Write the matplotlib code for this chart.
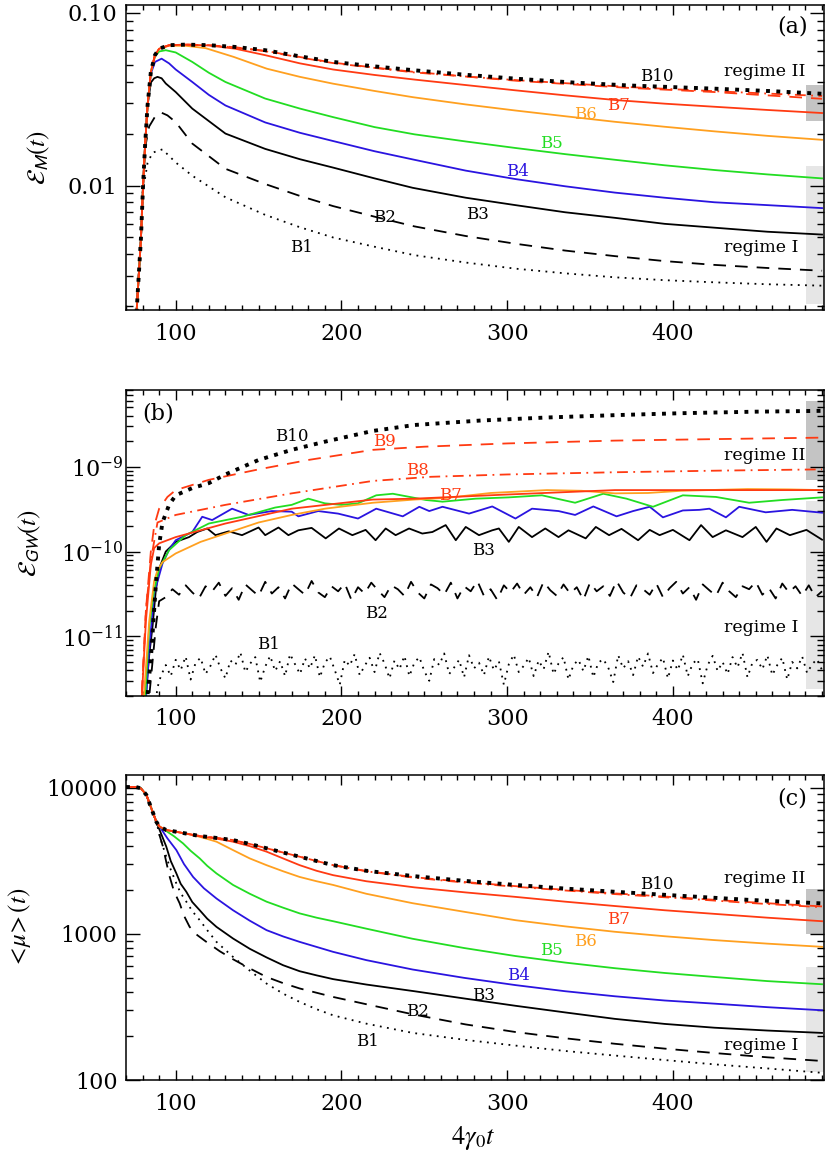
import numpy as np
import matplotlib
matplotlib.use('Agg')
import matplotlib.pyplot as plt
from matplotlib.ticker import FixedLocator, FixedFormatter, LogLocator, NullFormatter, MultipleLocator

plt.rcParams['font.family'] = ['DejaVu Serif']
plt.rcParams['mathtext.fontset'] = 'stix'

RED = '#ff3a12'
ORANGE = '#ffa020'
GREEN = '#22dd22'
BLUE = '#2a14e0'

# ---------------- panel (a): magnetic energy ----------------
ta_b10 = [76, 79, 80.3, 81.5, 83, 85, 87.5, 90, 96, 106, 120, 136, 154, 175, 195, 220, 244, 275, 305, 340, 373, 425, 460, 490]
ea_b10 = [0.0016, 0.0049, 0.010, 0.017, 0.029, 0.0455, 0.057, 0.062, 0.065, 0.0655, 0.065, 0.0635, 0.0608, 0.056,
          0.052, 0.049, 0.0465, 0.0438, 0.0416, 0.0395, 0.038, 0.0364, 0.0352, 0.034]
ta_b9 = [76, 79, 80.3, 81.5, 83, 85, 87.5, 90, 96, 106, 120, 136, 154, 175, 195, 220, 244, 275, 305, 340, 373, 425, 490]
ea_b9 = [0.0016, 0.0049, 0.010, 0.017, 0.029, 0.0455, 0.057, 0.062, 0.065, 0.0655, 0.065, 0.0632, 0.0603, 0.0555,
         0.0515, 0.0482, 0.0455, 0.0428, 0.0405, 0.0385, 0.0368, 0.0348, 0.0318]
ta_b8 = [76, 79, 80.3, 81.5, 83, 85, 87.5, 90, 96, 106, 120, 136, 154, 175, 195, 220, 244, 275, 305, 340, 373, 425, 490]
ea_b8 = [0.0016, 0.0049, 0.010, 0.017, 0.029, 0.0455, 0.057, 0.062, 0.065, 0.0655, 0.065, 0.063, 0.060, 0.0552,
         0.0512, 0.0480, 0.0452, 0.0428, 0.0408, 0.0389, 0.0372, 0.0352, 0.0330]
ta_b7 = [76, 79, 80.3, 81.5, 83, 85, 87.5, 90, 96, 106, 120, 136, 154, 175, 195, 220, 244, 275, 305, 335, 365, 395, 425, 457, 490]
ea_b7 = [0.0016, 0.0049, 0.010, 0.017, 0.029, 0.0455, 0.057, 0.062, 0.065, 0.0655, 0.0648, 0.062, 0.0569, 0.051,
         0.0470, 0.0437, 0.0411, 0.0382, 0.0356, 0.0333, 0.0313, 0.0298, 0.0286, 0.0274, 0.0263]
ta_b6 = [76, 79, 80.3, 81.5, 83, 85, 87.5, 90, 96, 106, 118, 135, 155, 175, 195, 220, 243, 275, 305, 335, 365, 395, 425, 457, 490]
ea_b6 = [0.0016, 0.0049, 0.010, 0.017, 0.029, 0.0455, 0.057, 0.062, 0.0645, 0.0645, 0.0625, 0.0556, 0.0475, 0.0426,
         0.0389, 0.0353, 0.0325, 0.0295, 0.0272, 0.0252, 0.0234, 0.0219, 0.0206, 0.0194, 0.0184]
ta_b5 = [76, 79, 80.3, 81.5, 83, 85, 87.5, 90, 94, 100, 110, 120, 130, 154, 175, 195, 220, 244, 275, 305, 335, 365,
         395, 425, 457, 490]
ea_b5 = [0.0016, 0.0049, 0.010, 0.017, 0.029, 0.0455, 0.056, 0.0598, 0.0608, 0.059, 0.052, 0.045, 0.0398, 0.0319,
         0.0279, 0.0249, 0.0218, 0.0198, 0.0180, 0.0165, 0.0152, 0.0141, 0.0131, 0.0123, 0.0116, 0.0110]
ta_b4 = [76, 79, 80.3, 81.5, 83, 85, 87.5, 91.5, 96, 100, 110, 120, 130, 154, 175, 195, 220, 244, 275, 305, 335, 365,
         395, 425, 457, 490]
ea_b4 = [0.0016, 0.0049, 0.010, 0.017, 0.029, 0.0445, 0.052, 0.0543, 0.051, 0.047, 0.0398, 0.0335, 0.0291, 0.0232,
         0.0202, 0.0181, 0.0158, 0.0141, 0.0122, 0.0109, 0.0099, 0.0091, 0.0085, 0.0080, 0.0077, 0.0074]
ta_b3 = [76, 79, 80.3, 81.5, 83, 85, 87, 89, 91.5, 94, 100, 110, 130, 154, 175, 195, 220, 243, 275, 305, 335, 365,
         395, 425, 457, 490]
ea_b3 = [0.0016, 0.0049, 0.010, 0.017, 0.029, 0.0395, 0.0418, 0.0426, 0.0418, 0.039, 0.0348, 0.0279, 0.0200, 0.0163,
         0.0142, 0.0127, 0.0110, 0.0097, 0.0085, 0.0077, 0.0070, 0.0065, 0.0060, 0.0057, 0.0054, 0.0052]
ta_b2 = [76, 79, 80.3, 81.5, 84, 88, 91.5, 95, 100, 110, 130, 154, 175, 195, 220, 244, 275, 305, 335, 365, 395, 425,
         457, 490]
ea_b2 = [0.0016, 0.0049, 0.010, 0.0165, 0.022, 0.0255, 0.0264, 0.0255, 0.0233, 0.0175, 0.0125, 0.0102, 0.0087, 0.0076,
         0.0066, 0.0058, 0.0051, 0.0046, 0.0042, 0.0039, 0.00365, 0.00347, 0.00333, 0.00321]
ta_b1 = [76, 79, 80, 83, 86, 92, 100, 110, 130, 154, 175, 195, 220, 244, 275, 305, 335, 365, 395, 425, 457, 490]
ea_b1 = [0.0016, 0.0049, 0.0090, 0.0135, 0.0155, 0.0162, 0.0136, 0.0114, 0.00855, 0.00676, 0.00573, 0.0050, 0.00442,
         0.00395, 0.00358, 0.00330, 0.00310, 0.00294, 0.00283, 0.00275, 0.00268, 0.00263]

# ---------------- panel (b): gravitational wave energy ----------------
tb_b10 = [82, 85.3, 88, 90, 92, 96, 100, 110, 120, 130, 150, 170, 190, 219, 244, 284, 324, 365, 405, 450, 490]
eb_b10 = [1.2e-12, 6.6e-12, 4e-11, 1.2e-10, 2.2e-10, 3.55e-10, 4.6e-10, 5.6e-10, 6.4e-10, 8.1e-10, 1.2e-9, 1.58e-9,
          1.97e-9, 2.64e-9, 3.1e-9, 3.5e-9, 3.8e-9, 4.05e-9, 4.27e-9, 4.45e-9, 4.55e-9]
tb_b9 = [79, 82, 85, 87, 90, 95, 100, 120, 150, 180, 219, 250, 300, 365, 430, 490]
eb_b9 = [1.2e-12, 2e-11, 1e-10, 2e-10, 3.2e-10, 4.4e-10, 5.3e-10, 7e-10, 9.3e-10, 1.2e-9, 1.58e-9, 1.72e-9, 1.88e-9,
         2.03e-9, 2.12e-9, 2.2e-9]
tb_b8 = [79, 82, 85, 89, 100, 130, 170, 219, 254, 300, 365, 430, 490]
eb_b8 = [1.2e-12, 2e-11, 7.9e-11, 2.2e-10, 2.7e-10, 3.55e-10, 4.85e-10, 6.8e-10, 7.6e-10, 8.1e-10, 8.6e-10, 9.0e-10,
         9.3e-10]
tb_b7 = [79, 82, 85, 87, 90, 100, 130, 170, 219, 244, 300, 365, 430, 490]
eb_b7 = [1.2e-12, 1.5e-11, 7e-11, 1.1e-10, 1.25e-10, 1.48e-10, 2.14e-10, 3.2e-10, 4.1e-10, 4.2e-10, 4.7e-10, 5.3e-10,
         5.3e-10, 5.3e-10]
tb_b6 = [80, 84, 87, 89, 92, 100, 115, 130, 150, 170, 190, 219, 244, 264, 290, 324, 345, 365, 385, 405, 445, 470, 490]
eb_b6 = [1.2e-12, 1.5e-11, 4.5e-11, 6e-11, 7.5e-11, 9.5e-11, 1.3e-10, 1.63e-10, 2.2e-10, 2.7e-10, 3.2e-10, 3.76e-10,
         4.1e-10, 4.3e-10, 4.9e-10, 5.3e-10, 5.2e-10, 4.85e-10, 4.9e-10, 5.2e-10, 5.45e-10, 5.4e-10, 5.3e-10]
tb_b5 = [81, 84, 87, 90, 96, 106, 120, 140, 160, 170, 180, 190, 200, 210, 221, 231, 251, 261, 281, 301, 321, 341,
         358, 372, 388, 406, 426, 446, 466, 490]
eb_b5 = [1.2e-12, 1.29e-11, 3.5e-11, 6.3e-11, 1.04e-10, 1.56e-10, 2.14e-10, 2.57e-10, 3.3e-10, 3.55e-10, 4.2e-10,
         3.7e-10, 3.55e-10, 3.7e-10, 4.6e-10, 4.8e-10, 4.05e-10, 3.87e-10, 4.2e-10, 4.35e-10, 4.6e-10, 3.76e-10,
         4.8e-10, 4.2e-10, 3.37e-10, 4.6e-10, 4.4e-10, 3.76e-10, 4.05e-10, 4.35e-10]
tb_b4 = [81.5, 84, 87, 92, 96, 100, 110, 116, 122, 134, 144, 158, 170, 174, 186, 198, 210, 221, 237, 247, 253, 261,
         277, 291, 305, 315, 331, 341, 352, 366, 376, 386, 394, 406, 416, 422, 432, 440, 456, 472, 490]
eb_b4 = [1.2e-12, 7e-12, 3.2e-11, 7.2e-11, 1.05e-10, 1.36e-10, 1.7e-10, 2.57e-10, 2.35e-10, 3.2e-10, 2.7e-10, 3.0e-10,
         2.95e-10, 2.6e-10, 3.0e-10, 2.8e-10, 2.45e-10, 3.2e-10, 2.6e-10, 3.37e-10, 3.0e-10, 3.37e-10, 2.8e-10,
         3.4e-10, 2.45e-10, 3.2e-10, 3.0e-10, 2.7e-10, 3.4e-10, 2.6e-10, 3.0e-10, 3.37e-10, 2.53e-10, 3.05e-10,
         3.1e-10, 3.2e-10, 2.53e-10, 3.37e-10, 2.9e-10, 3.1e-10, 2.87e-10]
tb_b3 = [81, 84, 86, 88, 90, 94, 100, 108, 113, 119, 124, 132, 140, 150, 154, 162, 168, 174, 182, 190.5, 198.5, 206.6,
         214.6, 220.6, 226.7, 232.7, 240.8, 248.8, 254.9, 262.9, 269, 275, 283, 291, 295, 301, 307, 315, 323, 331, 337,
         347.4, 353.5, 361.5, 369, 379, 386, 392, 400, 410, 417, 424, 432, 442, 450, 456.5, 462.5, 470.6, 480.6, 490]
eb_b3 = [1.2e-12, 6e-12, 1.3e-11, 3.5e-11, 6.3e-11, 1.0e-10, 1.3e-10, 1.48e-10, 1.7e-10, 1.87e-10, 1.56e-10, 1.73e-10,
         1.56e-10, 1.92e-10, 1.56e-10, 1.92e-10, 1.56e-10, 1.78e-10, 1.9e-10, 1.43e-10, 1.87e-10, 1.56e-10, 1.8e-10,
         1.36e-10, 1.87e-10, 1.56e-10, 1.87e-10, 1.63e-10, 1.7e-10, 2.05e-10, 1.36e-10, 1.95e-10, 1.56e-10, 1.78e-10,
         1.87e-10, 1.3e-10, 1.95e-10, 1.48e-10, 1.87e-10, 1.48e-10, 1.78e-10, 1.43e-10, 1.95e-10, 1.56e-10, 1.85e-10,
         1.36e-10, 1.8e-10, 1.56e-10, 1.8e-10, 1.36e-10, 2.05e-10, 1.48e-10, 1.78e-10, 1.48e-10, 1.95e-10, 1.3e-10,
         1.87e-10, 1.56e-10, 1.8e-10, 1.38e-10]
# B2: rise, then a noisy band sampled every 4 time units from 94 to 490 (values in 1e-11)
tb_b2_rise = [83, 86, 88, 90]
eb_b2_rise = [1.2e-12, 5e-12, 1.3e-11, 2.6e-11]
tb_b2_band = np.arange(94, 491, 4)
eb_b2_band = [2.9, 3.6, 3.1, 4.0, 3.3, 2.8, 3.9, 3.4, 4.3, 3.0,
              3.7, 2.7, 4.1, 3.5, 3.0, 4.4, 3.2, 3.8, 2.8, 4.2,
              3.6, 3.1, 4.5, 3.3, 2.9, 3.9, 3.4, 4.2, 2.7, 3.8,
              3.2, 4.3, 3.5, 2.9, 4.0, 3.6, 3.0, 4.4, 3.3, 2.8,
              4.1, 3.7, 3.1, 4.3, 2.8, 3.9, 3.4, 4.5, 3.0, 3.6,
              2.7, 4.0, 3.3, 4.2, 3.1, 3.8, 2.9, 4.4, 3.5, 3.0,
              4.1, 3.2, 3.8, 2.7, 4.3, 3.4, 3.9, 3.0, 4.5, 3.3,
              2.8, 4.0, 3.6, 3.1, 4.2, 2.9, 3.7, 4.4, 3.2, 3.8,
              2.7, 4.1, 3.5, 3.0, 4.3, 3.4, 2.9, 3.9, 3.6, 4.4,
              3.1, 3.7, 2.8, 4.2, 3.3, 3.9, 3.0, 4.0, 2.9, 3.4]
# B1: rise, then a noisy band sampled every 3 time units from 94 to 490 (values in 1e-12)
tb_b1_rise = [87, 89, 91]
eb_b1_rise = [1.2e-12, 2.5e-12, 3.4e-12]
tb_b1_band = np.arange(94, 491, 3)
eb_b1_band = [4.6, 3.4, 5.3, 4.0, 5.8, 3.1, 4.9, 5.6, 3.6, 4.5,
              6.1, 4.2, 3.2, 5.2, 4.6, 6.5, 3.8, 4.8, 5.7, 2.9,
              4.4, 5.9, 3.9, 5.1, 3.4, 6.2, 4.7, 3.6, 5.5, 4.2,
              6.0, 3.3, 4.9, 5.8, 4.0, 2.7, 5.3, 4.5, 6.2, 3.5,
              4.5, 5.6, 3.8, 6.4, 4.8, 3.2, 5.2, 4.1, 5.9, 3.4,
              4.9, 5.7, 3.9, 3.0, 5.4, 4.6, 6.3, 3.6, 4.3, 5.3,
              3.3, 6.0, 4.2, 4.9, 3.5, 5.8, 4.0, 5.1, 2.7, 4.7,
              6.1, 3.8, 4.5, 5.6, 3.4, 5.2, 4.1, 6.6, 3.6, 4.8,
              5.7, 3.1, 4.6, 5.3, 3.9, 5.9, 3.3, 4.9, 5.4, 4.3,
              2.9, 6.0, 4.2, 5.1, 3.5, 5.8, 4.4, 6.3, 3.7, 4.7,
              5.6, 3.2, 5.2, 4.0, 6.1, 3.4, 4.8, 5.4, 2.8, 4.6,
              5.9, 3.9, 5.0, 3.6, 5.7, 4.3, 6.4, 3.3, 4.9, 5.3,
              4.1, 6.0, 3.5, 4.6, 5.6, 3.1, 5.0, 4.2, 5.8, 3.7,
              4.7, 5.4, 4.0]

# ---------------- panel (c): mean mu ----------------
tc_start = [70, 76, 79, 82.3, 85.3, 88.3]
mc_start = [10100, 10100, 9900, 8920, 7220, 5840]
tc_b10 = [90.3, 94.3, 100, 114.5, 124.6, 134.6, 144.7, 154.8, 164.8, 174.8, 185, 195, 215, 244, 275, 305, 335, 365, 405, 445, 490]
mc_b10 = [5410, 5130, 5000, 4670, 4530, 4380, 4120, 3850, 3600, 3370, 3150, 2950, 2700, 2480, 2300, 2160, 2040, 1940,
          1820, 1710, 1615]
tc_b9 = [90.3, 94.3, 100, 114.5, 124.6, 134.6, 144.7, 154.8, 164.8, 174.8, 185, 195, 215, 244, 275, 305, 335, 365, 405, 445, 490]
mc_b9 = [5410, 5130, 5000, 4670, 4530, 4380, 4120, 3850, 3600, 3370, 3150, 2950, 2690, 2440, 2260, 2120, 2000, 1890,
         1770, 1650, 1540]
tc_b8 = [90.3, 94.3, 100, 114.5, 124.6, 134.6, 144.7, 154.8, 164.8, 174.8, 185, 195, 215, 244, 275, 305, 335, 365, 405, 445, 490]
mc_b8 = [5410, 5130, 5000, 4670, 4530, 4380, 4120, 3850, 3600, 3370, 3150, 2950, 2680, 2420, 2240, 2100, 1980, 1870,
         1750, 1630, 1520]
tc_b7 = [90.3, 94.3, 100, 114.5, 124.6, 134.6, 144.7, 154.8, 164.8, 174.8, 185, 195, 215, 244, 275, 305, 335, 365, 395,
         425, 457, 490]
mc_b7 = [5410, 5130, 5000, 4650, 4480, 4270, 3980, 3650, 3280, 2950, 2700, 2520, 2290, 2080, 1920, 1790, 1660, 1550,
         1450, 1370, 1290, 1220]
tc_b6 = [90.3, 94.3, 100, 110.5, 117, 124.6, 134.6, 144.7, 154.8, 164.8, 174.8, 185, 195, 215, 243, 275, 305, 335, 365,
         395, 425, 457, 490]
mc_b6 = [5410, 5130, 4990, 4740, 4530, 4270, 3740, 3280, 2950, 2680, 2450, 2290, 2160, 1880, 1620, 1410, 1240, 1125,
         1033, 963, 906, 857, 815]
tc_b5 = [90.3, 94.3, 99, 104.4, 109, 114.5, 119, 124.6, 134.6, 144.7, 154.8, 164.8, 174.8, 185, 195, 215, 243, 274,
         305, 335, 365, 395, 425, 457, 490]
mc_b5 = [5410, 5050, 4650, 4160, 3700, 3280, 2920, 2590, 2160, 1880, 1660, 1510, 1380, 1290, 1220, 1085, 925, 800,
         705, 636, 582, 540, 507, 475, 452]
tc_b4 = [90.3, 95, 100.4, 105, 110.5, 117, 124.6, 134.6, 144.7, 154.8, 164.8, 174.8, 195, 215, 243, 274, 305, 335, 365,
         395, 425, 457, 490]
mc_b4 = [5410, 4500, 3740, 3000, 2450, 2050, 1745, 1450, 1230, 1060, 960, 881, 753, 661, 570, 500, 446, 405, 374, 350,
         333, 315, 300]
tc_b3 = [91, 94.3, 97, 100.4, 103, 106.4, 110, 114.5, 119, 124.6, 134.6, 144.7, 154.8, 164.8, 174.8, 185, 195, 215,
         244, 275, 305, 335, 365, 395, 425, 457, 490]
mc_b3 = [4900, 3950, 3150, 2590, 2200, 1940, 1650, 1450, 1270, 1116, 929, 790, 690, 610, 555, 520, 490, 450, 405,
         360, 322, 290, 262, 242, 228, 218, 210]
tc_b2 = [90.3, 92.3, 94.3, 96.4, 99, 102.4, 105, 108.4, 113, 118.5, 126.6, 134.6, 144.7, 154.8, 164.8, 174.8, 195,
         215, 244, 275, 305, 335, 365, 395, 425, 457, 490]
mc_b2 = [4700, 3950, 3100, 2450, 1950, 1615, 1330, 1116, 980, 881, 760, 670, 580, 507, 460, 423, 370, 330, 280, 240,
         213, 193, 177, 164, 153, 143, 135]
tc_b1 = [91, 94.3, 97, 100.4, 103, 106.4, 110, 114.5, 119, 124.6, 134.6, 144.7, 154.8, 164.8, 174.8, 185, 195, 215, 243,
         275, 305, 335, 365, 395, 425, 457, 490]
mc_b1 = [4400, 3370, 2750, 2210, 1900, 1660, 1430, 1240, 1060, 881, 695, 560, 457, 390, 342, 305, 277, 243, 210, 188,
         172, 158, 147, 137, 128, 120, 112]

# curve labels: (text, x, y, colour)
labels_a = [('B10', 390, 0.0429, 'k'), ('B7', 367, 0.0291, RED), ('B6', 347, 0.0258, ORANGE),
            ('B5', 327, 0.0175, GREEN), ('B4', 306, 0.0121, BLUE), ('B3', 282, 0.0068, 'k'),
            ('B2', 226, 0.00655, 'k'), ('B1', 176, 0.00437, 'k')]
labels_b = [('B10', 170, 2.26e-9, 'k'), ('B9', 226, 1.97e-9, RED), ('B8', 246, 9.1e-10, RED),
            ('B7', 266, 4.63e-10, RED), ('B3', 286, 1.04e-10, 'k'), ('B2', 221, 1.86e-11, 'k'),
            ('B1', 156, 8e-12, 'k')]
labels_c = [('B10', 390, 2160, 'k'), ('B7', 367, 1257, RED), ('B6', 347, 881, ORANGE),
            ('B5', 327, 773, GREEN), ('B4', 307, 515, BLUE), ('B3', 286, 376, 'k'),
            ('B2', 246, 293, 'k'), ('B1', 216, 182, 'k')]


fig = plt.figure(figsize=(8.3, 11.53), dpi=100)
ax_a = fig.add_axes([0.1518, 0.7311, 0.8406, 0.2645])
ax_b = fig.add_axes([0.1518, 0.3966, 0.8406, 0.2651])
ax_c = fig.add_axes([0.1518, 0.0633, 0.8406, 0.2645])

lw = 1.3


def style(ax):
    ax.set_xlim(70, 491)
    ax.set_yscale('log')
    ax.set_xticks([100, 200, 300, 400])
    ax.xaxis.set_minor_locator(MultipleLocator(10))
    ax.yaxis.set_minor_locator(LogLocator(base=10, subs=np.arange(2, 10)))
    ax.yaxis.set_minor_formatter(NullFormatter())
    ax.tick_params(which='both', direction='in', top=True, right=True, labelsize=16, width=1)
    ax.tick_params(which='minor', labelleft=False, labelbottom=False)
    ax.tick_params(axis='x', which='major', length=7.5, pad=9)
    ax.tick_params(axis='x', which='minor', length=3.8)
    ax.tick_params(axis='y', which='major', length=10, pad=6)
    ax.tick_params(axis='y', which='minor', length=5)
    for s in ax.spines.values():
        s.set_linewidth(1.1)


def put_labels(ax, labels):
    for txt, x, y, c in labels:
        ax.text(x, y, txt, color=c, fontsize=12, ha='center', va='center')


def shade(ax, dark, light):
    ax.fill_between([480.6, 491], dark[0], dark[1], color='#c4c4c4', lw=0, zorder=0)
    ax.fill_between([480.6, 491], light[0], light[1], color='#e6e6e6', lw=0, zorder=0)


# ---- (a)
ax = ax_a
style(ax)
shade(ax, (0.0238, 0.038), (0.00206, 0.01306))
ax.plot(ta_b1, ea_b1, color='k', lw=lw, dashes=(1, 3))
ax.plot(ta_b2, ea_b2, color='k', lw=lw, dashes=(7, 5))
ax.plot(ta_b3, ea_b3, color='k', lw=lw)
ax.plot(ta_b4, ea_b4, color=BLUE, lw=lw)
ax.plot(ta_b5, ea_b5, color=GREEN, lw=lw)
ax.plot(ta_b6, ea_b6, color=ORANGE, lw=lw)
ax.plot(ta_b7, ea_b7, color=RED, lw=lw)
ax.plot(ta_b8, ea_b8, color=RED, lw=lw, dashes=(6, 3, 1, 3))
ax.plot(ta_b9, ea_b9, color=RED, lw=lw, dashes=(7, 5))
ax.plot(ta_b10, ea_b10, color='k', lw=2.8, ls=':')
ax.set_ylim(0.0019, 0.111)
ax.yaxis.set_major_locator(FixedLocator([0.01, 0.1]))
ax.yaxis.set_major_formatter(FixedFormatter(['0.01', '0.10']))
put_labels(ax, labels_a)
ax.text(455.5, 0.0455, 'regime II', fontsize=12.5, ha='center', va='center')
ax.text(453.5, 0.00437, 'regime I', fontsize=12.5, ha='center', va='center')
ax.text(472, 0.083, '(a)', fontsize=16, ha='center', va='center')
ax.set_ylabel(r'$\mathcal{E}_{\mathsf{M}}(t)$', fontsize=18, va='center')
ax.yaxis.set_label_coords(-0.125, 0.5)

# ---- (b)
ax = ax_b
style(ax)
shade(ax, (6.97e-10, 5.97e-9), (2.41e-12, 3.97e-10))
tb_b1 = list(tb_b1_rise) + list(tb_b1_band)
eb_b1 = list(eb_b1_rise) + [v * 1e-12 for v in eb_b1_band]
tb_b2 = list(tb_b2_rise) + list(tb_b2_band)
eb_b2 = list(eb_b2_rise) + [v * 1e-11 for v in eb_b2_band]
ax.plot(tb_b1, eb_b1, color='k', lw=lw, dashes=(1, 3))
ax.plot(tb_b2, eb_b2, color='k', lw=lw, dashes=(7, 5))
ax.plot(tb_b3, eb_b3, color='k', lw=lw)
ax.plot(tb_b4, eb_b4, color=BLUE, lw=lw)
ax.plot(tb_b5, eb_b5, color=GREEN, lw=lw)
ax.plot(tb_b6, eb_b6, color=ORANGE, lw=lw)
ax.plot(tb_b7, eb_b7, color=RED, lw=lw)
ax.plot(tb_b8, eb_b8, color=RED, lw=lw, dashes=(6, 3, 1, 3))
ax.plot(tb_b9, eb_b9, color=RED, lw=lw, dashes=(7, 5))
ax.plot(tb_b10, eb_b10, color='k', lw=2.8, ls=':')
ax.set_ylim(2e-12, 8e-9)
ax.tick_params(axis='y', which='major', pad=2)
put_labels(ax, labels_b)
ax.text(455.5, 1.37e-9, 'regime II', fontsize=12.5, ha='center', va='center')
ax.text(453.5, 1.26e-11, 'regime I', fontsize=12.5, ha='center', va='center')
ax.text(89.3, 4.27e-9, '(b)', fontsize=16, ha='center', va='center')
ax.set_ylabel(r'$\mathcal{E}_{\mathsf{GW}}(t)$', fontsize=18, va='center')
ax.yaxis.set_label_coords(-0.138, 0.5)

# ---- (c)
ax = ax_c
style(ax)
shade(ax, (1000, 2030), (114, 597))
series_c = [(tc_b1, mc_b1, 'k', dict(dashes=(1, 3))),
            (tc_b2, mc_b2, 'k', dict(dashes=(7, 5))),
            (tc_b3, mc_b3, 'k', {}),
            (tc_b4, mc_b4, BLUE, {}),
            (tc_b5, mc_b5, GREEN, {}),
            (tc_b6, mc_b6, ORANGE, {}),
            (tc_b7, mc_b7, RED, {}),
            (tc_b8, mc_b8, RED, dict(dashes=(6, 3, 1, 3))),
            (tc_b9, mc_b9, RED, dict(dashes=(7, 5)))]
for t, m, c, kw in series_c:
    ax.plot(tc_start + t, mc_start + m, color=c, lw=lw, **kw)
ax.plot(tc_start + tc_b10, mc_start + mc_b10, color='k', lw=2.8, ls=':')
ax.set_ylim(100, 12200)
ax.yaxis.set_major_locator(FixedLocator([100, 1000, 10000]))
ax.yaxis.set_major_formatter(FixedFormatter(['100', '1000', '10000']))
put_labels(ax, labels_c)
ax.text(455.5, 2400, 'regime II', fontsize=12.5, ha='center', va='center')
ax.text(453.5, 173, 'regime I', fontsize=12.5, ha='center', va='center')
ax.text(472, 8460, '(c)', fontsize=16, ha='center', va='center')
ax.set_ylabel(r'$<\!\mu\!>(t)$', fontsize=18, va='center')
ax.yaxis.set_label_coords(-0.153, 0.5)
ax.set_xlabel(r'$4\gamma_0 t$', fontsize=19, va='center')
ax.xaxis.set_label_coords(0.497, -0.19)

fig.savefig('out.png', dpi=100)
